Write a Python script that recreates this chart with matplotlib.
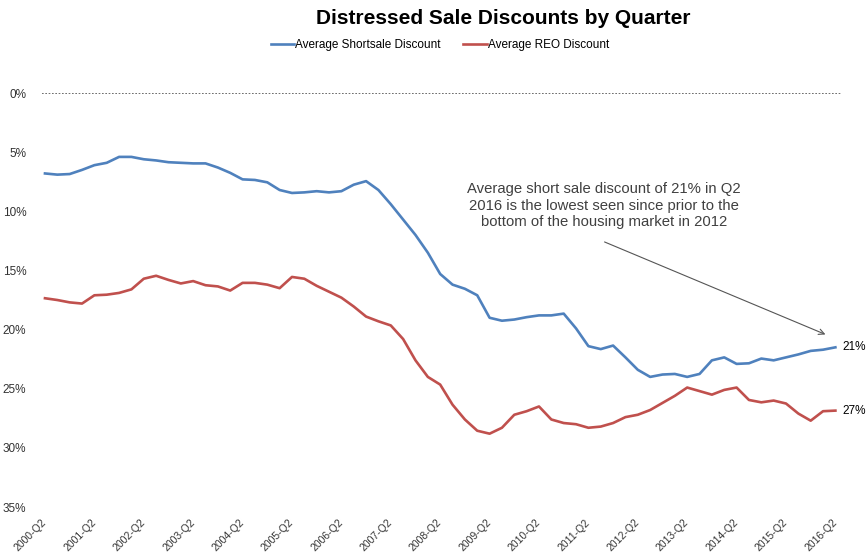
import numpy as np
import matplotlib.pyplot as plt

plt.rcParams['font.family'] = ['Liberation Sans Narrow', 'Liberation Sans', 'DejaVu Sans']

# quarterly discounts (percent), 2000-Q2 .. 2016-Q2
shortsale = [6.8, 6.9, 6.85, 6.5, 6.1, 5.9, 5.4, 5.4, 5.6, 5.7,
             5.85, 5.9, 5.95, 5.95, 6.3, 6.75, 7.3, 7.35, 7.55, 8.2,
             8.45, 8.4, 8.3, 8.4, 8.3, 7.75, 7.45, 8.2, 9.4, 10.7,
             12.0, 13.5, 15.3, 16.2, 16.55, 17.1, 19.0, 19.25, 19.15, 18.95,
             18.8, 18.8, 18.65, 19.9, 21.4, 21.65, 21.35, 22.35, 23.4, 24.0,
             23.8, 23.75, 24.0, 23.75, 22.6, 22.35, 22.9, 22.85, 22.45, 22.6,
             22.35, 22.1, 21.8, 21.7, 21.5]
reo = [17.35, 17.5, 17.7, 17.8, 17.1, 17.05, 16.9, 16.6, 15.7, 15.45,
       15.8, 16.1, 15.9, 16.25, 16.35, 16.7, 16.05, 16.05, 16.2, 16.5,
       15.55, 15.7, 16.3, 16.8, 17.3, 18.05, 18.9, 19.3, 19.65, 20.8,
       22.6, 24.0, 24.65, 26.35, 27.6, 28.55, 28.8, 28.3, 27.2, 26.9,
       26.5, 27.6, 27.9, 28.0, 28.3, 28.2, 27.9, 27.4, 27.2, 26.8,
       26.2, 25.6, 24.9, 25.2, 25.5, 25.1, 24.9, 25.95, 26.15, 26.0,
       26.25, 27.1, 27.7, 26.9, 26.85]
tick_labels = ['2000-Q2', '2001-Q2', '2002-Q2', '2003-Q2', '2004-Q2', '2005-Q2',
               '2006-Q2', '2007-Q2', '2008-Q2', '2009-Q2', '2010-Q2', '2011-Q2',
               '2012-Q2', '2013-Q2', '2014-Q2', '2015-Q2', '2016-Q2']
end_labels = ['21%', '27%']
note = ('Average short sale discount of 21% in Q2\n'
        '2016 is the lowest seen since prior to the\n'
        'bottom of the housing market in 2012')

x = np.arange(len(shortsale))

fig = plt.figure(figsize=(8.66, 5.56), dpi=100)
ax = fig.add_axes([0.0448, 0.0881, 0.927, 0.7446])

ax.plot(x, shortsale, color='#4F81BD', lw=1.9, label='Average Shortsale Discount')
ax.plot(x, reo, color='#C0504D', lw=1.9, label='Average REO Discount')
ax.axhline(0, color='#555555', lw=1.2, ls=(0, (1, 1)), xmin=0.004, xmax=1.0)

ax.set_ylim(35, 0)
ax.set_xlim(-0.5, 64.5)
ax.set_yticks(range(0, 36, 5))
ax.set_yticklabels([f'{v}%' for v in range(0, 36, 5)], fontsize=8.5, color='#333333')
ax.set_xticks(x[::4])
ax.set_xticklabels(tick_labels, rotation=45, ha='right', va='center',
                   rotation_mode='anchor', fontsize=7.5, color='#333333')
ax.tick_params(axis='both', length=0)
ax.tick_params(axis='y', pad=9)
ax.tick_params(axis='x', pad=10)
for s in ax.spines.values():
    s.set_visible(False)

# end-of-series labels
ax.text(x[-1] + 0.6, shortsale[-1], end_labels[0], fontsize=8.5, va='center', ha='left')
ax.text(x[-1] + 0.6, reo[-1], end_labels[1], fontsize=8.5, va='center', ha='left')

# annotation
ax.text(45.26, 9.53, note, fontsize=10.7, color='#404040', ha='center', va='center',
        multialignment='center', family=['Liberation Sans', 'DejaVu Sans'], linespacing=1.22)
ax.annotate('', xy=(63.4, 20.5), xytext=(45.1, 12.5),
            arrowprops=dict(arrowstyle='->', color='#555555', lw=0.8))

fig.text(0.581, 0.967, 'Distressed Sale Discounts by Quarter', fontsize=15,
         fontweight='bold', ha='center', va='center')
fig.legend(loc='center', bbox_to_anchor=(0.508, 0.919), ncol=2, frameon=False,
           fontsize=8.5, handlelength=2.0, handletextpad=0.1, columnspacing=1.9)

plt.savefig('out.png', dpi=100)
